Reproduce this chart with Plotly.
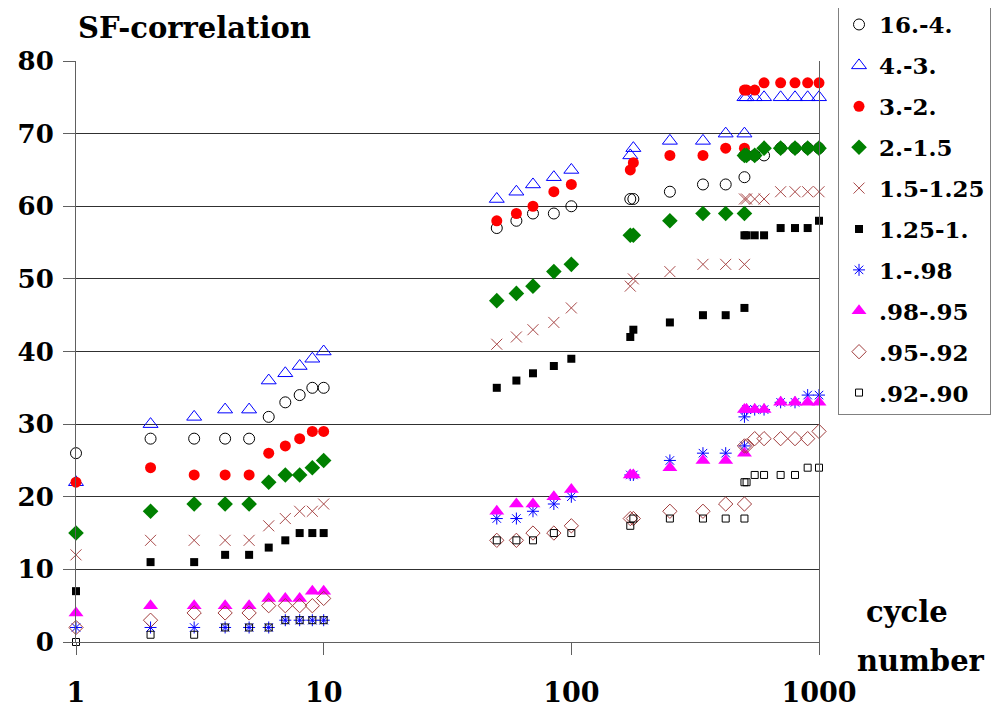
import plotly.graph_objects as go

# cycle numbers (x)
cycles = [1, 2, 3, 4, 5, 6, 7, 8, 9, 10,
          50, 60, 70, 85, 100,
          173, 178, 250, 340, 420, 500,
          500, 510, 550, 600, 700, 800, 900, 1000]

series_names = ["16.-4.", "4.-3.", "3.-2.", "2.-1.5", "1.5-1.25",
                "1.25-1.", "1.-.98", ".98-.95", ".95-.92", ".92-.90"]

s_16_4 = [26, 28, 28, 28, 28, 31, 33, 34, 35, 35, 57, 58, 59, 59, 60,
          61, 61, 62, 63, 63, 64, 67, 67, 67, 67, 68, 68, 68, 68]
s_4_3 = [22, 30, 31, 32, 32, 36, 37, 38, 39, 40, 61, 62, 63, 64, 65,
         67, 68, 69, 69, 70, 70, 75, 75, 75, 75, 75, 75, 75, 75]
s_3_2 = [22, 24, 23, 23, 23, 26, 27, 28, 29, 29, 58, 59, 60, 62, 63,
         65, 66, 67, 67, 68, 68, 76, 76, 76, 77, 77, 77, 77, 77]
s_2_15 = [15, 18, 19, 19, 19, 22, 23, 23, 24, 25, 47, 48, 49, 51, 52,
          56, 56, 58, 59, 59, 59, 67, 67, 67, 68, 68, 68, 68, 68]
s_15_125 = [12, 14, 14, 14, 14, 16, 17, 18, 18, 19, 41, 42, 43, 44, 46,
            49, 50, 51, 52, 52, 52, 61, 61, 61, 61, 62, 62, 62, 62]
s_125_1 = [7, 11, 11, 12, 12, 13, 14, 15, 15, 15, 35, 36, 37, 38, 39,
           42, 43, 44, 45, 45, 46, 56, 56, 56, 56, 57, 57, 57, 58]
s_1_98 = [2, 2, 2, 2, 2, 2, 3, 3, 3, 3, 17, 17, 18, 19, 20,
          23, 23, 25, 26, 26, 27, 31, 32, 32, 32, 33, 33, 34, 34]
s_98_95 = [4, 5, 5, 5, 5, 6, 6, 6, 7, 7, 18, 19, 19, 20, 21,
           23, 23, 24, 25, 25, 26, 32, 32, 32, 32, 33, 33, 33, 33]
s_95_92 = [2, 3, 4, 4, 4, 5, 5, 5, 5, 6, 14, 14, 15, 15, 16,
           17, 17, 18, 18, 19, 19, 27, 27, 28, 28, 28, 28, 28, 29]
s_92_90 = [0, 1, 1, 2, 2, 2, 3, 3, 3, 3, 14, 14, 14, 15, 15,
           16, 17, 17, 17, 17, 17, 22, 22, 23, 23, 23, 23, 24, 24]

y_ticks = [0, 10, 20, 30, 40, 50, 60, 70, 80]
x_ticks = [1, 10, 100, 1000]

values = [s_16_4, s_4_3, s_3_2, s_2_15, s_15_125,
          s_125_1, s_1_98, s_98_95, s_95_92, s_92_90]

styles = [
    dict(symbol="circle-open", size=11, color="#000000", line=dict(width=1, color="#000000")),
    dict(symbol="triangle-up-open", size=13, color="#0000FF", line=dict(width=1, color="#0000FF")),
    dict(symbol="circle", size=11, color="#FF0000"),
    dict(symbol="diamond", size=12, color="#008000"),
    dict(symbol="x-thin-open", size=11, color="#A84848", line=dict(width=1, color="#A84848")),
    dict(symbol="square", size=8, color="#000000"),
    dict(symbol="asterisk-open", size=10, color="#0000FF", line=dict(width=1, color="#0000FF")),
    dict(symbol="triangle-up", size=13, color="#FF00FF"),
    dict(symbol="diamond-open", size=11, color="#A03C3C", line=dict(width=1, color="#A03C3C")),
    dict(symbol="square-open", size=7, color="#000000", line=dict(width=1, color="#000000")),
]

FONT = "DejaVu Serif"

fig = go.Figure()
for name, vals, st in zip(series_names, values, styles):
    fig.add_trace(go.Scatter(
        x=cycles, y=vals, mode="markers", name=name,
        legendgroup=name, marker=st, cliponaxis=False,
    ))

fig.update_layout(
    width=1002, height=715,
    margin=dict(l=68, r=191, t=53, b=81, autoexpand=False),
    paper_bgcolor="white", plot_bgcolor="white",
    font=dict(family=FONT, color="black"),
    showlegend=True,
    legend=dict(
        x=1.0256, y=1.1015, xanchor="left", yanchor="top",
        bordercolor="#808080", borderwidth=1,
        font=dict(family=FONT, size=23, color="black", weight="bold"),
        tracegroupgap=8, itemsizing="trace", maxheight=700,
    ),
    xaxis=dict(
        type="log", range=[0, 3], automargin=False,
        tickvals=x_ticks, ticktext=[str(v) for v in x_ticks],
        ticks="outside", ticklen=12, tickcolor="#606060",
        showgrid=False, zeroline=False,
        showline=True, linecolor="#606060", linewidth=1, mirror=False,
        tickfont=dict(family=FONT, size=27, color="black", weight="bold"),
        ticklabelstandoff=15,
    ),
    yaxis=dict(
        range=[0, 80], tickvals=y_ticks, automargin=False,
        ticks="outside", ticklen=12, tickcolor="#606060",
        showgrid=True, gridcolor="#303030", gridwidth=1,
        zeroline=False,
        showline=True, linecolor="#606060", linewidth=1, mirror=True,
        tickfont=dict(family=FONT, size=26, color="black", weight="bold"),
        ticklabelstandoff=4,
    ),
    annotations=[
        dict(text="SF-correlation", xref="paper", yref="paper", x=0.0, y=1.0895,
             xanchor="left", yanchor="top", showarrow=False,
             font=dict(family=FONT, size=29, color="black", weight="bold")),
        dict(text="cycle", xref="paper", yref="paper", x=1.118, y=0.052,
             xanchor="center", yanchor="middle", showarrow=False,
             font=dict(family=FONT, size=29, color="black", weight="bold")),
        dict(text="number", xref="paper", yref="paper", x=1.137, y=-0.032,
             xanchor="center", yanchor="middle", showarrow=False,
             font=dict(family=FONT, size=29, color="black", weight="bold")),
    ],
)

fig.write_html("out.html")
